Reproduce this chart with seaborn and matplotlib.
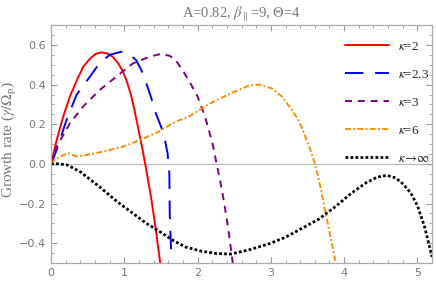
### -------------------- ###
###  Libraries
### -------------------- ###
import numpy as np
import pandas as pd
import matplotlib
matplotlib.use("Agg")
import matplotlib.pyplot as plt
from matplotlib.ticker import MultipleLocator
import seaborn as sns

### -------------------- ###
###  Data
### -------------------- ###
# kappa = 2
k2_x = [0, 0.077, 0.167, 0.258, 0.35, 0.44, 0.53, 0.61, 0.69, 0.77, 0.845, 0.92, 0.98, 1.04, 1.09, 1.14,
        1.19, 1.25, 1.30, 1.37, 1.43, 1.49]
k2_y = [0, 0.12, 0.24, 0.34, 0.42, 0.49, 0.53, 0.555, 0.563, 0.557, 0.54, 0.505, 0.468, 0.41, 0.35, 0.27,
        0.18, 0.07, -0.03, -0.18, -0.33, -0.50]

# kappa = 2.3
k23_x = [0, 0.077, 0.21, 0.35, 0.53, 0.66, 0.80, 0.96, 1.06, 1.16, 1.23, 1.30, 1.37, 1.43, 1.52, 1.56,
         1.59, 1.615, 1.62, 1.64]
k23_y = [0, 0.07, 0.22, 0.35, 0.44, 0.507, 0.55, 0.566, 0.555, 0.524, 0.475, 0.407, 0.33, 0.255, 0.17, 0.11,
         0.055, -0.05, -0.25, -0.45]

# kappa = 3
k3_x = [0, 0.077, 0.258, 0.44, 0.665, 0.89, 1.117, 1.34, 1.5, 1.62, 1.70, 1.80, 1.89, 2.0, 2.1, 2.2,
        2.26, 2.3, 2.36, 2.42, 2.48]
k3_y = [0, 0.087, 0.205, 0.29, 0.373, 0.44, 0.507, 0.54, 0.555, 0.545, 0.524, 0.47, 0.415, 0.34, 0.24, 0.11,
        0.0, -0.07, -0.19, -0.33, -0.50]

# kappa = 6
k6_x = [0, 0.05, 0.12, 0.235, 0.35, 0.48, 0.71, 0.98, 1.21, 1.43, 1.70, 1.89, 2.1, 2.3, 2.56, 2.7, 2.84,
        3.02, 3.15, 3.29, 3.38, 3.47, 3.54, 3.60, 3.65, 3.70, 3.76, 3.82, 3.88]
k6_y = [0, 0.02, 0.037, 0.054, 0.037, 0.045, 0.062, 0.087, 0.12, 0.155, 0.213, 0.24, 0.29, 0.33, 0.373,
        0.395, 0.40, 0.38, 0.34, 0.27, 0.22, 0.138, 0.07, 0.003, -0.072, -0.16, -0.27, -0.38, -0.49]

# kappa -> infinity
kinf_x = [0, 0.1, 0.22, 0.4, 0.66, 0.9, 1.12, 1.3, 1.48, 1.66, 1.84, 2.05, 2.25, 2.45, 2.74, 3.0, 3.2, 3.45,
          3.65, 3.9, 4.1, 4.3, 4.45, 4.58, 4.7, 4.8, 4.91, 5.0, 5.1, 5.2]
kinf_y = [0, 0.0, -0.005, -0.04, -0.115, -0.19, -0.25, -0.30, -0.34, -0.385, -0.42, -0.44, -0.452, -0.455,
          -0.43, -0.40, -0.37, -0.32, -0.28, -0.21, -0.147, -0.095, -0.067, -0.058, -0.07, -0.10, -0.147,
          -0.21, -0.32, -0.47]

labels = [r"$\kappa$=2", r"$\kappa$=2.3", r"$\kappa$=3", r"$\kappa$=6", r"$\kappa\!\rightarrow\!\infty$"]
colors = ["#ff0000", "#0000ff", "#800080", "#ff8c00", "#000000"]

### -------------------- ###
###  Plot
### -------------------- ###
sns.set_style("ticks")
plt.rcParams["font.family"] = ["DejaVu Sans"]
plt.rcParams["mathtext.fontset"] = "stix"

fig = plt.figure(figsize=(4.36, 3.03), dpi=100)
ax = fig.add_axes([0.117, 0.132, 0.874, 0.785])

series = [(k2_x, k2_y), (k23_x, k23_y), (k3_x, k3_y), (k6_x, k6_y), (kinf_x, kinf_y)]
# dash patterns picked to look like the Mathematica defaults
styles = ["-", (0, (9.5, 6)), (0, (3.6, 3)), (0, (3, 1.2, 1, 1.2)), (0, (1, 0.8))]
widths = [1.4, 1.4, 1.4, 1.4, 2.0]

ax.axhline(0, color="#bbbbbb", lw=0.9, zorder=0)
for (xs, ys), lab, c, ls, lw in zip(series, labels, colors, styles, widths):
    sns.lineplot(x=xs, y=ys, ax=ax, color=c, linestyle=ls, lw=lw, label=lab, sort=False)

ax.set_xlim(0, 5.2)
ax.set_ylim(-0.5, 0.7)
ax.xaxis.set_major_locator(MultipleLocator(1))
ax.xaxis.set_minor_locator(MultipleLocator(0.2))
ax.yaxis.set_minor_locator(MultipleLocator(0.05))
ax.set_yticks([-0.4, -0.2, 0.0, 0.2, 0.4, 0.6])
ax.set_yticklabels(["\u22120.4", "\u22120.2", "0.0", "0.2", "0.4", "0.6"])
ax.tick_params(which="both", direction="in", top=True, right=True, colors="#999999",
               labelcolor="#777777", labelsize=8)
ax.tick_params(which="major", length=4, width=0.8)
ax.tick_params(which="minor", length=2, width=0.6)
for sp in ax.spines.values():
    sp.set_color("#aaaaaa")
    sp.set_linewidth(0.9)

ax.set_title(r"A=0.82, $\beta_{\parallel}$=9, $\Theta$=4", family="Liberation Serif",
             fontsize=10.5, color="#777777", pad=6)
ax.set_ylabel(r"Growth rate ($\gamma/\Omega_{\mathrm{p}}$)", family="Liberation Serif",
              fontsize=11, color="#777777")
ax.yaxis.set_label_coords(-0.085, 0.52)

leg = ax.legend(loc="upper left", bbox_to_anchor=(0.755, 0.963), frameon=False,
                prop={"family": "Liberation Serif", "size": 9.5}, handlelength=3.3,
                handletextpad=0.7, labelspacing=1.2, borderpad=0)

fig.savefig("out.png", dpi=100)
